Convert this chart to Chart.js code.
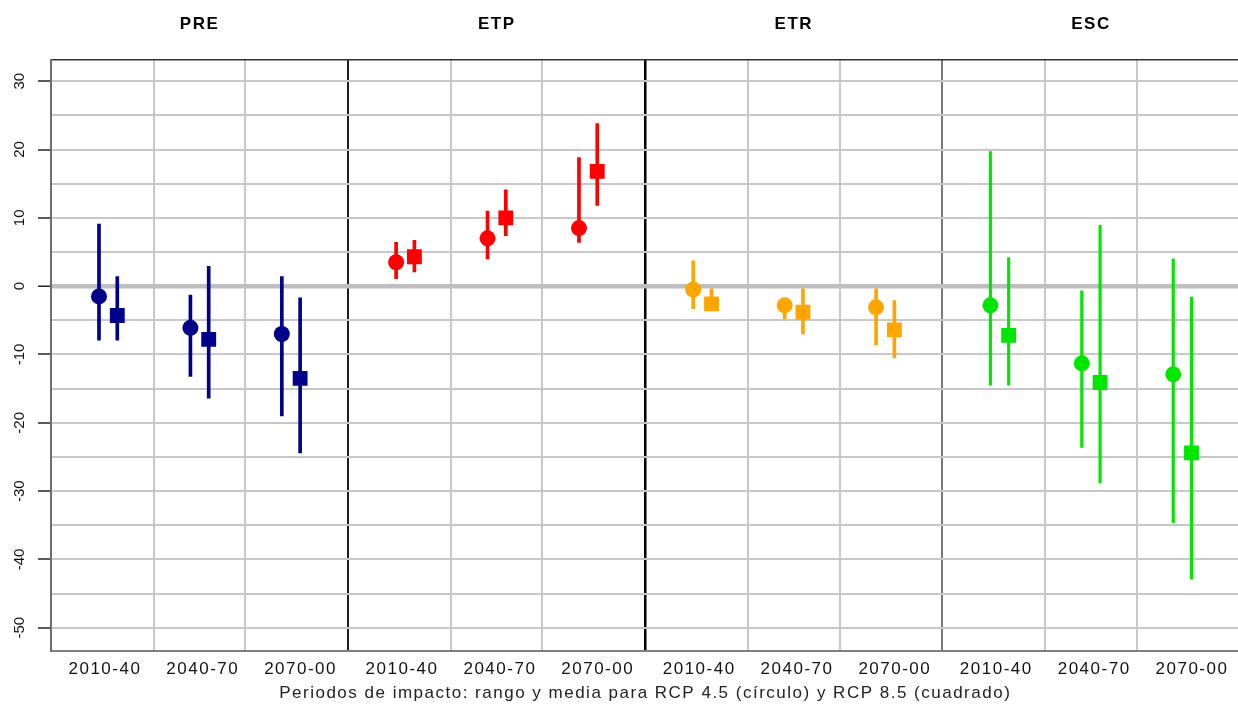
<!DOCTYPE html>
<html><head><meta charset="utf-8">
<script src="https://cdn.jsdelivr.net/npm/chart.js@4.4.0/dist/chart.umd.min.js"></script>
<style>html,body{margin:0;padding:0;overflow:hidden;background:#fff;}#wrap{width:1250px;height:706px;}</style>
</head><body><div id="wrap"><canvas id="c" width="1250" height="706"></canvas></div>
<script>
// ---- data ----
const periods = ['2010-40', '2040-70', '2070-00'];
const variables = ['PRE', 'ETP', 'ETR', 'ESC'];
const yTickLabels = [30, 20, 10, 0, -10, -20, -30, -40, -50];
const yGridValues = [30, 25, 20, 15, 10, 5, 0, -5, -10, -15, -20, -25, -30, -35, -40, -45, -50];
const xTitle = 'Periodos de impacto: rango y media para RCP 4.5 (círculo) y RCP 8.5 (cuadrado)';

// PRE
const preMean45 = [-1.5, -6.1, -7.0];
const preMin45  = [-7.9, -13.2, -19.0];
const preMax45  = [9.1, -1.3, 1.4];
const preMean85 = [-4.3, -7.8, -13.5];
const preMin85  = [-7.9, -16.4, -24.4];
const preMax85  = [1.4, 2.9, -1.7];
// ETP
const etpMean45 = [3.5, 7.0, 8.5];
const etpMin45  = [1.1, 4.0, 6.4];
const etpMax45  = [6.4, 11.0, 18.8];
const etpMean85 = [4.3, 10.0, 16.8];
const etpMin85  = [2.1, 7.4, 11.8];
const etpMax85  = [6.7, 14.1, 23.8];
// ETR
const etrMean45 = [-0.5, -2.8, -3.1];
const etrMin45  = [-3.3, -4.8, -8.6];
const etrMax45  = [3.7, -2.0, -0.4];
const etrMean85 = [-2.6, -3.8, -6.4];
const etrMin85  = [-3.5, -7.0, -10.5];
const etrMax85  = [-0.4, -0.4, -2.1];
// ESC
const escMean45 = [-2.8, -11.3, -12.9];
const escMin45  = [-14.5, -23.6, -34.6];
const escMax45  = [19.7, -0.7, 4.0];
const escMean85 = [-7.2, -14.1, -24.4];
const escMin85  = [-14.5, -28.8, -42.9];
const escMax85  = [4.2, 8.9, -1.6];

// ---- styles / layout ----
const colors = ['#00008B', '#FF0000', '#FFA500', '#00E600'];
const lineW = [3, 3, 3, 2.5];
const PANEL = 3.25, FIRST = 0.625, SHIFT = 0.1, LABEL0 = 0.59, LABELSTEP = 1.07;

const table = [
  [preMean45, preMin45, preMax45, preMean85, preMin85, preMax85],
  [etpMean45, etpMin45, etpMax45, etpMean85, etpMin85, etpMax85],
  [etrMean45, etrMin45, etrMax45, etrMean85, etrMin85, etrMax85],
  [escMean45, escMin45, escMax45, escMean85, escMin85, escMax85]
];

const datasets = [];
table.forEach((t, p) => {
  const [m45, lo45, hi45, m85, lo85, hi85] = t;
  const xs = periods.map((_, k) => p * PANEL + FIRST + k);
  const common = {xAxisID: 'x', yAxisID: 'y'};
  datasets.push({...common, type: 'bar', order: 2, grouped: false, barThickness: lineW[p], backgroundColor: colors[p], borderWidth: 0,
    data: xs.map((x, k) => ({x: x - SHIFT, y: [lo45[k], hi45[k]]}))});
  datasets.push({...common, type: 'bar', order: 2, grouped: false, barThickness: lineW[p], backgroundColor: colors[p], borderWidth: 0,
    data: xs.map((x, k) => ({x: x + SHIFT, y: [lo85[k], hi85[k]]}))});
  datasets.push({...common, type: 'scatter', order: 0, pointStyle: 'circle', pointRadius: 8, pointBorderWidth: 0,
    backgroundColor: colors[p], borderColor: colors[p], data: xs.map((x, k) => ({x: x - SHIFT, y: m45[k]}))});
  datasets.push({...common, type: 'scatter', order: 0, pointStyle: 'rect', pointRadius: 10.5, pointBorderWidth: 0,
    backgroundColor: colors[p], borderColor: colors[p], data: xs.map((x, k) => ({x: x + SHIFT, y: m85[k]}))});
});

// x ticks: grid positions + label positions
function buildXTicks() {
  const ticks = [];
  variables.forEach((v, p) => {
    ticks.push({value: p * PANEL + FIRST + 0.5, kind: 'grid'});
    ticks.push({value: p * PANEL + FIRST + 1.5, kind: 'grid'});
    if (p > 0) ticks.push({value: p * PANEL, kind: 'sep' + p});
    periods.forEach((lab, k) => ticks.push({value: p * PANEL + LABEL0 + k * LABELSTEP, kind: 'label', txt: lab}));
  });
  ticks.sort((a, b) => a.value - b.value);
  return ticks;
}
const sepColor = {sep1: '#1e1e1e', sep2: '#000000', sep3: '#7a7a7a'};
const sepWidth = {sep1: 2, sep2: 2.5, sep3: 2};

const FONT = '"Liberation Sans", Arial, Helvetica, sans-serif';
Chart.defaults.font.family = FONT;

const spacingPlugin = {id: 'spacing', beforeDraw(chart) { chart.ctx.letterSpacing = '1.5px'; }};
const yLabelPlugin = {
  id: 'yLabels',
  afterDraw(chart) {
    const ctx = chart.ctx, ys = chart.scales.y;
    ctx.save();
    ctx.letterSpacing = '0px';
    ctx.font = '15px ' + FONT;
    ctx.fillStyle = '#111';
    ctx.textAlign = 'center';
    ctx.textBaseline = 'middle';
    yTickLabels.forEach(v => {
      const py = ys.getPixelForValue(v);
      ctx.save();
      ctx.translate(20, py);
      ctx.rotate(-Math.PI / 2);
      ctx.fillText(String(v), 0, 0);
      ctx.restore();
    });
    ctx.restore();
  }
};
const noPad = s => { s.paddingLeft = 0; s.paddingRight = 0; };

new Chart(document.getElementById('c'), {
  type: 'scatter',
  data: {datasets},
  plugins: [spacingPlugin, yLabelPlugin],
  options: {
    responsive: false,
    animation: false,
    devicePixelRatio: 1,
    events: [],
    layout: {padding: {left: 0, right: 1, top: 0, bottom: 0}},
    plugins: {legend: {display: false}, tooltip: {enabled: false}},
    scales: {
      x: {
        type: 'linear', position: 'bottom', min: 0, max: 4 * PANEL, offset: false,
        afterBuildTicks: s => { s.ticks = buildXTicks(); },
        afterFit: s => { s.height = 55; noPad(s); },
        grid: {
          offset: false, drawTicks: false, drawOnChartArea: true,
          color: c => { const k = c.tick && c.tick.kind; if (k === 'grid') return '#c8c8c8'; if (k && sepColor[k]) return sepColor[k]; return 'rgba(0,0,0,0)'; },
          lineWidth: c => { const k = c.tick && c.tick.kind; if (k === 'grid') return 2; if (k && sepWidth[k]) return sepWidth[k]; return 0; }
        },
        border: {display: true, color: '#7f7f7f', width: 2},
        ticks: {
          autoSkip: false, maxRotation: 0, minRotation: 0, padding: 8,
          font: {size: 17}, color: '#111',
          callback: (v, i, ticks) => (ticks[i] && ticks[i].txt) ? ticks[i].txt : ''
        },
        title: {display: true, text: xTitle, font: {size: 17}, color: '#222', padding: {top: 0, bottom: 2}}
      },
      xTop: {
        type: 'linear', position: 'top', min: 0, max: 4 * PANEL, offset: false,
        afterBuildTicks: s => { s.ticks = variables.map((v, p) => ({value: p * PANEL + PANEL / 2, txt: v})); },
        afterFit: s => { s.height = 60; noPad(s); },
        grid: {display: false, drawTicks: false},
        border: {display: true, color: '#333', width: 1.5},
        ticks: {
          autoSkip: false, maxRotation: 0, minRotation: 0, padding: 25,
          font: {size: 17, weight: 'bold'}, color: '#000',
          callback: (v, i, ticks) => ticks[i] ? ticks[i].txt : ''
        }
      },
      y: {
        type: 'linear', position: 'left', min: -53.4, max: 33.1,
        afterBuildTicks: s => { s.ticks = yGridValues.map(v => ({value: v})); },
        afterFit: s => { s.width = 51; },
        grid: {
          drawTicks: true, tickLength: 13,
          color: c => (c.tick && c.tick.value === 0) ? '#bebebe' : '#c8c8c8',
          lineWidth: c => (c.tick && c.tick.value === 0) ? 4.5 : 2,
          tickColor: c => (c.tick && c.tick.value % 10 === 0) ? '#222' : 'rgba(0,0,0,0)',
          tickWidth: 1.5
        },
        border: {display: true, color: '#6e6e6e', width: 2},
        ticks: {display: false}
      }
    }
  }
});
</script></body></html>
